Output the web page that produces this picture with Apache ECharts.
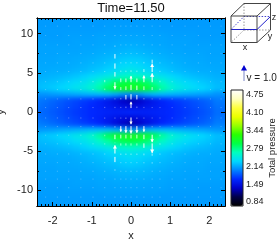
<!DOCTYPE html>
<html><head><meta charset="utf-8">
<style>html,body{margin:0;padding:0;background:#fff}#c{width:277px;height:249px}</style>
<script src="https://cdn.jsdelivr.net/npm/echarts@6/dist/echarts.min.js"></script>
</head><body><div id="c"></div>
<script>
const title = 'Time=11.50';
const xTicks = [-2,-1,0,1,2];
const yTicks = [-10,-5,0,5,10];
const barTicks = [0.84,1.49,2.14,2.79,3.44,4.10,4.75];
const gridX = [-2.4,-2.2,-2.0,-1.8,-1.6,-1.4,-1.2,-1.0,-0.8,-0.6,-0.4,-0.2,0,0.2,0.4,0.6,0.8,1.0,1.2,1.4,1.6,1.8,2.0,2.2,2.4];
const gridY = [12,11.25,10.5,9.75,9,8.25,7.5,6.75,6,5.25,4.5,3.75,3,2.25,1.5,0.75,0,-0.75,-1.5,-2.25,-3,-3.75,-4.5,-5.25,-6,-6.75,-7.5,-8.25,-9,-9.75,-10.5,-11.25,-12];
const pressure = [
[2.09,2.09,2.09,2.09,2.09,2.09,2.09,2.09,2.09,2.09,2.09,2.09,2.09,2.09,2.09,2.09,2.09,2.09,2.09,2.09,2.09,2.09,2.09,2.09,2.09],
[2.09,2.09,2.09,2.09,2.09,2.09,2.09,2.09,2.09,2.10,2.10,2.10,2.10,2.10,2.10,2.10,2.09,2.09,2.09,2.09,2.09,2.09,2.09,2.09,2.09],
[2.10,2.10,2.10,2.10,2.10,2.10,2.10,2.10,2.10,2.11,2.11,2.11,2.11,2.11,2.11,2.11,2.10,2.10,2.10,2.10,2.10,2.10,2.10,2.10,2.10],
[2.10,2.10,2.10,2.10,2.11,2.11,2.11,2.11,2.12,2.12,2.12,2.13,2.13,2.13,2.12,2.12,2.12,2.11,2.11,2.11,2.11,2.10,2.10,2.10,2.10],
[2.11,2.11,2.11,2.11,2.11,2.12,2.12,2.12,2.13,2.13,2.14,2.15,2.15,2.15,2.14,2.13,2.13,2.12,2.12,2.12,2.11,2.11,2.11,2.11,2.11],
[2.12,2.12,2.12,2.12,2.12,2.12,2.13,2.13,2.14,2.15,2.16,2.17,2.18,2.17,2.16,2.15,2.14,2.13,2.13,2.12,2.12,2.12,2.12,2.12,2.12],
[2.12,2.12,2.12,2.13,2.13,2.13,2.14,2.15,2.16,2.17,2.19,2.21,2.22,2.21,2.19,2.17,2.16,2.15,2.14,2.13,2.13,2.13,2.12,2.12,2.12],
[2.13,2.13,2.13,2.14,2.14,2.15,2.16,2.17,2.19,2.21,2.24,2.27,2.28,2.27,2.24,2.21,2.19,2.17,2.16,2.15,2.14,2.14,2.13,2.13,2.13],
[2.14,2.14,2.14,2.15,2.15,2.16,2.18,2.20,2.22,2.25,2.29,2.33,2.35,2.33,2.29,2.25,2.22,2.20,2.18,2.16,2.15,2.15,2.14,2.14,2.14],
[2.15,2.15,2.16,2.16,2.17,2.19,2.21,2.24,2.27,2.31,2.36,2.41,2.44,2.41,2.36,2.31,2.27,2.24,2.21,2.19,2.17,2.16,2.16,2.15,2.15],
[2.17,2.18,2.19,2.21,2.23,2.26,2.30,2.35,2.41,2.47,2.54,2.60,2.63,2.60,2.54,2.47,2.41,2.35,2.30,2.26,2.23,2.21,2.19,2.18,2.17],
[2.20,2.22,2.24,2.27,2.31,2.35,2.40,2.48,2.60,2.74,2.88,2.97,3.00,2.97,2.88,2.74,2.60,2.48,2.40,2.35,2.31,2.27,2.24,2.22,2.20],
[2.22,2.25,2.28,2.32,2.36,2.41,2.47,2.57,2.72,2.90,3.05,3.14,3.18,3.14,3.05,2.90,2.72,2.57,2.47,2.41,2.36,2.32,2.28,2.25,2.22],
[2.06,2.07,2.09,2.11,2.13,2.15,2.17,2.19,2.20,2.20,2.15,2.06,2.02,2.06,2.15,2.20,2.20,2.19,2.17,2.15,2.13,2.11,2.09,2.07,2.06],
[1.97,1.94,1.90,1.86,1.82,1.78,1.74,1.70,1.64,1.56,1.46,1.34,1.28,1.34,1.46,1.56,1.64,1.70,1.74,1.78,1.82,1.86,1.90,1.94,1.97],
[1.94,1.91,1.87,1.83,1.79,1.75,1.71,1.67,1.63,1.58,1.53,1.47,1.44,1.47,1.53,1.58,1.63,1.67,1.71,1.75,1.79,1.83,1.87,1.91,1.94],
[1.92,1.89,1.85,1.81,1.77,1.73,1.70,1.67,1.65,1.64,1.63,1.64,1.66,1.64,1.63,1.64,1.65,1.67,1.70,1.73,1.77,1.81,1.85,1.89,1.92],
[1.94,1.91,1.87,1.83,1.79,1.75,1.71,1.67,1.63,1.58,1.53,1.48,1.45,1.48,1.53,1.58,1.63,1.67,1.71,1.75,1.79,1.83,1.87,1.91,1.94],
[1.98,1.95,1.91,1.87,1.83,1.79,1.75,1.71,1.65,1.57,1.46,1.34,1.27,1.34,1.46,1.57,1.65,1.71,1.75,1.79,1.83,1.87,1.91,1.95,1.98],
[2.07,2.08,2.10,2.12,2.14,2.16,2.18,2.20,2.21,2.21,2.17,2.10,2.06,2.10,2.17,2.21,2.21,2.20,2.18,2.16,2.14,2.12,2.10,2.08,2.07],
[2.22,2.25,2.28,2.32,2.36,2.42,2.48,2.58,2.74,2.92,3.07,3.15,3.19,3.15,3.07,2.92,2.74,2.58,2.48,2.42,2.36,2.32,2.28,2.25,2.22],
[2.20,2.22,2.24,2.27,2.30,2.35,2.40,2.48,2.59,2.72,2.85,2.93,2.96,2.93,2.85,2.72,2.59,2.48,2.40,2.35,2.30,2.27,2.24,2.22,2.20],
[2.17,2.18,2.19,2.21,2.23,2.26,2.30,2.35,2.40,2.46,2.52,2.57,2.60,2.57,2.52,2.46,2.40,2.35,2.30,2.26,2.23,2.21,2.19,2.18,2.17],
[2.15,2.15,2.16,2.16,2.17,2.19,2.21,2.23,2.26,2.30,2.35,2.39,2.41,2.39,2.35,2.30,2.26,2.23,2.21,2.19,2.17,2.16,2.16,2.15,2.15],
[2.14,2.14,2.14,2.15,2.15,2.16,2.18,2.20,2.22,2.25,2.28,2.31,2.33,2.31,2.28,2.25,2.22,2.20,2.18,2.16,2.15,2.15,2.14,2.14,2.14],
[2.13,2.13,2.13,2.14,2.14,2.15,2.16,2.17,2.19,2.21,2.23,2.26,2.27,2.26,2.23,2.21,2.19,2.17,2.16,2.15,2.14,2.14,2.13,2.13,2.13],
[2.12,2.12,2.12,2.13,2.13,2.13,2.14,2.15,2.16,2.17,2.19,2.20,2.21,2.20,2.19,2.17,2.16,2.15,2.14,2.13,2.13,2.13,2.12,2.12,2.12],
[2.12,2.12,2.12,2.12,2.12,2.12,2.13,2.13,2.14,2.15,2.16,2.17,2.17,2.17,2.16,2.15,2.14,2.13,2.13,2.12,2.12,2.12,2.12,2.12,2.12],
[2.11,2.11,2.11,2.11,2.11,2.12,2.12,2.12,2.13,2.13,2.14,2.14,2.15,2.14,2.14,2.13,2.13,2.12,2.12,2.12,2.11,2.11,2.11,2.11,2.11],
[2.10,2.10,2.10,2.10,2.11,2.11,2.11,2.11,2.12,2.12,2.12,2.13,2.13,2.13,2.12,2.12,2.12,2.11,2.11,2.11,2.11,2.10,2.10,2.10,2.10],
[2.10,2.10,2.10,2.10,2.10,2.10,2.10,2.10,2.10,2.11,2.11,2.11,2.11,2.11,2.11,2.11,2.10,2.10,2.10,2.10,2.10,2.10,2.10,2.10,2.10],
[2.09,2.09,2.09,2.09,2.09,2.09,2.09,2.09,2.09,2.10,2.10,2.10,2.10,2.10,2.10,2.10,2.09,2.09,2.09,2.09,2.09,2.09,2.09,2.09,2.09],
[2.09,2.09,2.09,2.09,2.09,2.09,2.09,2.09,2.09,2.09,2.09,2.09,2.09,2.09,2.09,2.09,2.09,2.09,2.09,2.09,2.09,2.09,2.09,2.09,2.09]
];
const arrowX = [-2.18,-1.88,-1.59,-1.28,-0.97,-0.67,-0.41,-0.26,-0.13,0,0.15,0.33,0.54,0.74,1.05,1.38,1.72,2.03,2.30];
const arrowY = [10.9,9.7,8.5,7.4,6.2,5.1,3.8,2.8,1.6,0.5,-0.7,-1.8,-2.9,-4,-5.3,-6.4,-7.5,-8.5,-9.6,-10.8];
const arrowV = [
[.02,.03,.03,.03,.04,.04,.05,.04,.05,.05,.05,.05,.05,.04,.04,.03,.03,.03,.02],
[.02,.03,.03,.03,.04,.04,.06,.05,.05,.05,.05,.05,.05,.04,.04,.03,.03,.03,.02],
[.02,.03,.03,.03,.04,.05,-.10,.05,.05,.05,.05,.05,.06,.05,.04,.03,.03,.03,.02],
[.02,.03,.03,.04,.04,.05,-.30,.06,.06,.06,.06,.07,.08,.05,.04,.04,.03,.03,.02],
[.03,.03,.04,.04,.05,.06,-.35,.08,.08,.08,.08,.10,.25,.07,.05,.04,.04,.03,.03],
[.03,.03,.04,.05,.05,.07,-.30,.10,.10,.12,.10,.20,.55,.08,.06,.04,.04,.03,.03],
[.03,.04,.05,.06,.08,.15,-.45,.25,.25,.42,.25,.45,.60,.10,.07,.05,.04,.03,.03],
[.03,.04,.05,.06,.07,.10,.10,.20,.25,.35,.30,.25,.20,.10,.07,.05,.04,.03,.03],
[.03,.04,.05,.06,.06,.07,.08,.10,.30,.35,.30,.10,.07,.06,.05,.04,.04,.03,.03],
[.04,.05,.06,.07,.07,.08,.08,.08,.10,.42,.10,.08,.07,.06,.05,.05,.04,.04,.03],
[-.04,-.05,-.06,-.07,-.07,-.08,-.08,-.08,-.10,-.45,-.10,-.08,-.07,-.06,-.05,-.05,-.04,-.04,-.03],
[-.03,-.04,-.05,-.06,-.06,-.07,-.10,-.38,-.45,-.50,-.45,-.38,-.08,-.06,-.05,-.04,-.04,-.03,-.03],
[-.03,-.04,-.05,-.06,-.07,-.10,-.30,-.25,-.25,-.25,-.25,-.30,-.50,-.10,-.07,-.05,-.04,-.03,-.03],
[-.03,-.03,-.04,-.05,-.06,-.08,.05,-.15,-.15,-.15,-.15,-.30,-.65,-.09,-.06,-.05,-.04,-.03,-.03],
[-.03,-.03,-.04,-.05,-.05,-.07,.55,-.10,-.10,-.10,-.10,-.12,-.15,-.08,-.06,-.04,-.04,-.03,-.03],
[-.02,-.03,-.04,-.04,-.05,-.06,.35,-.07,-.07,-.07,-.07,-.08,-.10,-.07,-.05,-.04,-.03,-.03,-.02],
[-.02,-.03,-.03,-.04,-.04,-.05,.10,-.05,-.05,-.06,-.05,-.05,-.06,-.05,-.04,-.04,-.03,-.03,-.02],
[-.02,-.03,-.03,-.03,-.04,-.04,-.05,-.05,-.05,-.05,-.05,-.05,-.05,-.05,-.04,-.03,-.03,-.03,-.02],
[-.02,-.03,-.03,-.03,-.04,-.04,-.04,-.05,-.04,-.05,-.05,-.05,-.05,-.04,-.04,-.03,-.03,-.03,-.02],
[-.02,-.03,-.03,-.03,-.03,-.04,-.04,-.04,-.04,-.04,-.04,-.04,-.04,-.04,-.03,-.03,-.03,-.03,-.02]
];
const colorScale = ['#000000','#000046','#0000c8','#0028ff','#0082ff','#00d7ff','#00ffbe','#00ff46','#28ff00','#96ff00','#ebff00','#ffff3c','#ffffbe','#ffffff'];

const FONT = '"Liberation Sans", Arial, sans-serif';
const heatData = [];
gridY.forEach((y,i)=>gridX.forEach((x,j)=>heatData.push([x,y,pressure[i][j]])));
const arrowData = [];
arrowY.forEach((y,i)=>arrowX.forEach((x,j)=>arrowData.push([x,y,arrowV[i][j]])));

const XR = 2.4, YR = 12, PX = 15; // px per unit speed
function minorList(from,to,step){const a=[];for(let i=0;i<=Math.round((to-from)/step);i++)a.push(+(from+i*step).toFixed(2));return a;}
const xMinor = minorList(-2.3,2.3,0.1), yMinor = minorList(-10,10,2.5);
function xAx(pos,vals,len,label){return {type:'value',gridIndex:0,position:pos,min:-XR,max:XR,splitLine:{show:false},
  axisLine:{show:true,onZero:false,lineStyle:{color:'#000',width:1}},
  axisTick:{show:true,inside:true,length:len,customValues:vals,lineStyle:{color:'#000',width:1}},
  axisLabel:label?{show:true,customValues:xTicks,color:'#222',fontSize:11,fontFamily:FONT,margin:9}:{show:false},
  name:label?'x':'',nameLocation:'middle',nameGap:24,nameTextStyle:{color:'#222',fontSize:11,fontFamily:FONT}};}
function yAx(pos,vals,len,label){return {type:'value',gridIndex:0,position:pos,min:-YR,max:YR,splitLine:{show:false},
  axisLine:{show:true,onZero:false,lineStyle:{color:'#000',width:1}},
  axisTick:{show:true,inside:true,length:len,customValues:vals,lineStyle:{color:'#000',width:1}},
  axisLabel:label?{show:true,customValues:yTicks,color:'#222',fontSize:11,fontFamily:FONT,margin:4}:{show:false},
  name:label?'y':'',nameLocation:'middle',nameGap:22,nameTextStyle:{color:'#222',fontSize:11,fontFamily:FONT}};}

const option = {
  animation:false,
  backgroundColor:'transparent',
  title:{text:title,left:131,top:1,textAlign:'center',padding:0,textStyle:{fontFamily:FONT,fontWeight:'normal',fontSize:13,color:'#111',lineHeight:15}},
  grid:[{left:37,top:18,width:188,height:188,outerBoundsMode:'none',containLabel:false},{left:231,top:90,width:12,height:116,show:false,outerBoundsMode:'none',containLabel:false}],
  xAxis:[xAx('bottom',xTicks,4,true),xAx('bottom',xMinor,2,false),xAx('top',xTicks,4,false),xAx('top',xMinor,2,false),
    {type:'value',gridIndex:1,min:0,max:1,show:false}],
  yAxis:[yAx('left',yTicks,4,true),yAx('left',yMinor,2,false),yAx('right',yTicks,4,false),yAx('right',yMinor,2,false),
    {type:'value',gridIndex:1,position:'right',min:0.69,max:4.93,splitLine:{show:false},
     axisLine:{show:false},axisTick:{show:false},
     axisLabel:{show:true,customValues:barTicks,formatter:v=>v.toFixed(2),color:'#222',fontSize:9,fontFamily:FONT,margin:3},
     name:'Total pressure',nameLocation:'middle',nameRotate:90,nameGap:22,nameTextStyle:{color:'#222',fontSize:9.5,fontFamily:FONT,padding:[0,0,0,0]}}],
  visualMap:{type:'continuous',seriesIndex:0,dimension:2,min:0.69,max:4.93,left:231,top:90,itemWidth:12,itemHeight:116,padding:0,
    calculable:false,realtime:false,hoverLink:false,text:null,showLabel:false,inRange:{color:colorScale},borderColor:'#000',borderWidth:0},
  series:[
    {type:'custom',zlevel:-1,xAxisIndex:0,yAxisIndex:0,coordinateSystem:'cartesian2d',silent:true,clip:false,
     encode:{x:0,y:1},data:heatData,
     renderItem(params,api){
       const x=api.value(0),y=api.value(1);
       const hw=(x<=-XR||x>=XR)?0.3:0.1, hh=(y>=YR||y<=-YR)?1.2:0.375;
       const a=api.coord([x-hw,y+hh]),b=api.coord([x+hw,y-hh]);
       return {type:'rect',shape:{x:a[0],y:a[1],width:b[0]-a[0]+1,height:b[1]-a[1]+1},style:{fill:api.visual('color')}};
     }},
    {type:'custom',xAxisIndex:0,yAxisIndex:0,coordinateSystem:'cartesian2d',silent:true,clip:true,
     encode:{x:0,y:1},data:arrowData,z:5,
     renderItem(params,api){
       const p=api.coord([api.value(0),api.value(1)]),v=api.value(2);
       const len=Math.abs(v)*PX, dir=v>0?-1:1, tip=p[1]+dir*Math.max(len,1);
       const op=Math.min(1,0.2+Math.abs(v)*2.5);
       const kids=[{type:'line',shape:{x1:p[0],y1:p[1],x2:p[0],y2:tip},style:{stroke:'#fff',lineWidth:1,opacity:op}}];
       if(len>=5.5){const h=Math.min(3.5,len*0.4),w=h*0.6;
         kids.push({type:'polygon',shape:{points:[[p[0],tip],[p[0]-w,tip-dir*h],[p[0]+w,tip-dir*h]]},style:{fill:'#fff',opacity:op}});}
       return {type:'group',children:kids};
     }}
  ],
  graphic:{elements:[
    {type:'polyline',shape:{points:[[244,3.5],[244,30],[231,42.5]]},style:{stroke:'#999',lineWidth:1,lineDash:[1.5,1.5],fill:null}},
    {type:'line',shape:{x1:244,y1:30,x2:270.5,y2:30},style:{stroke:'#999',lineWidth:1,lineDash:[1.5,1.5]}},
    {type:'polyline',shape:{points:[[231,29.5],[244,16.5],[270.5,16.5]]},style:{stroke:'#4444cc',lineWidth:1,lineDash:[1.5,1.5],fill:null}},
    {type:'polyline',shape:{points:[[231,29.5],[257,29.5],[270.5,16.5]]},style:{stroke:'#2222cc',lineWidth:1,fill:null}},
    {type:'polyline',shape:{points:[[231,16],[257,16],[257,42.5],[231,42.5],[231,16],[244,3.5],[270.5,3.5],[270.5,30],[257,42.5]]},style:{stroke:'#444',lineWidth:1,fill:null}},
    {type:'line',shape:{x1:257,y1:16,x2:270.5,y2:3.5},style:{stroke:'#444',lineWidth:1}},
    {type:'text',style:{x:245,y:48,text:'x',fontSize:9,fontFamily:FONT,fill:'#222',align:'center',verticalAlign:'middle'}},
    {type:'text',style:{x:270,y:37,text:'y',fontSize:9,fontFamily:FONT,fill:'#222',align:'center',verticalAlign:'middle'}},
    {type:'text',style:{x:274,y:18,text:'z',fontSize:9,fontFamily:FONT,fill:'#222',align:'center',verticalAlign:'middle'}},
    {type:'line',shape:{x1:244,y1:69,x2:244,y2:81},style:{stroke:'#7a86c8',lineWidth:1}},
    {type:'polygon',shape:{points:[[244,65],[241,70.5],[247,70.5]]},style:{fill:'#0000d0'}},
    {type:'text',style:{x:246.5,y:78,text:'v = 1.0',fontSize:10,fontFamily:FONT,fill:'#222',align:'left',verticalAlign:'middle'}},
    {type:'rect',z:10,shape:{x:231,y:90,width:12,height:116},style:{stroke:'#222',fill:null,lineWidth:1}}
  ]}
};
const chart = echarts.init(document.getElementById('c'),null,{renderer:'canvas',width:277,height:249});
chart.setOption(option);
const layer = chart.getZr().painter.getLayer(-1);
if(layer&&layer.dom){layer.dom.style.filter='blur(2px)';layer.dom.style.clipPath='inset(18px 52px 43px 37px)';}
const top0 = chart.getZr().painter.getLayer(0);
if(top0&&top0.dom){top0.dom.style.filter='blur(0.3px)';}
</script></body></html>
